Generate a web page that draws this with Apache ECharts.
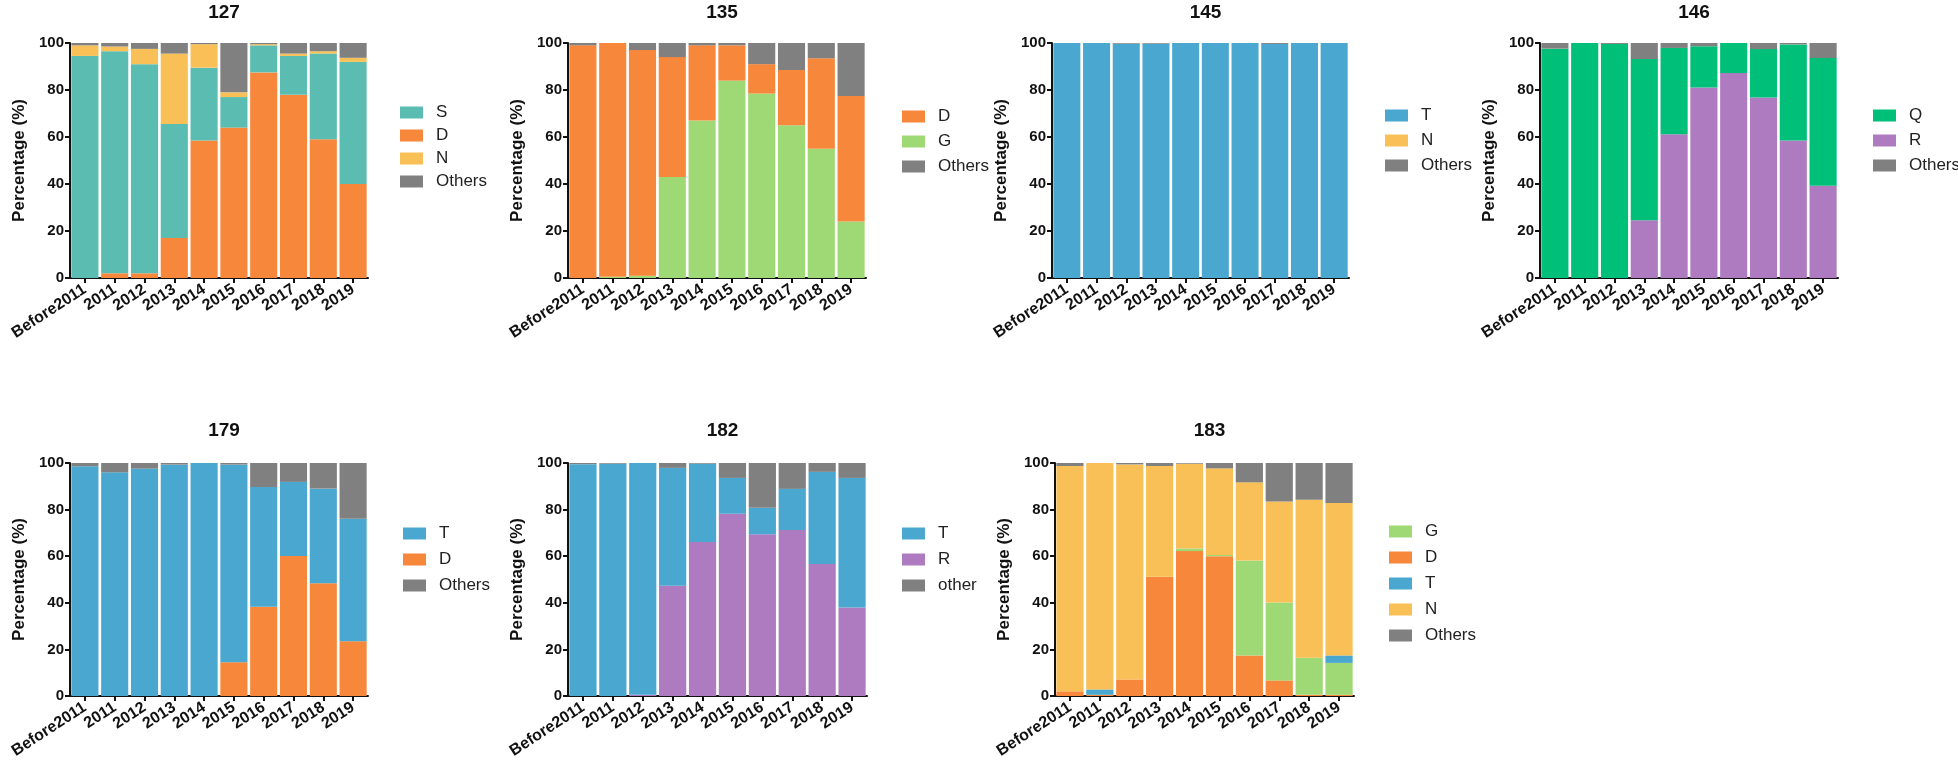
<!DOCTYPE html>
<html>
<head>
<meta charset="utf-8">
<script src="https://cdn.jsdelivr.net/npm/echarts@6/dist/echarts.min.js"></script>
<style>
  html, body { margin: 0; padding: 0; background: #fff; }
  #chart { width: 1958px; height: 768px; }
</style>
</head>
<body>
<div id="chart"></div>
<script>
const categories = ["Before2011", "2011", "2012", "2013", "2014", "2015", "2016", "2017", "2018", "2019"];
const yTicks = [0, 20, 40, 60, 80, 100];

// 127
const p127_D = [0, 2, 2, 17, 58.5, 64, 87.5, 78, 59, 40];
const p127_S = [94.5, 94.5, 89, 48.5, 31, 13, 11.5, 16.5, 36.5, 52];
const p127_N = [4.5, 2, 6.5, 30, 10, 2, 0.5, 1, 1, 1.7];
const p127_O = [1, 1.5, 2.5, 4.5, 0.5, 21, 0.5, 4.5, 3.5, 6.3];
// 135
const p135_G = [0, 0.5, 1, 43, 67, 84, 78.5, 65, 55, 24];
const p135_D = [99, 99.5, 96, 51, 32, 15, 12.5, 23.5, 38.5, 53.5];
const p135_O = [1, 0, 3, 6, 1, 1, 9, 11.5, 6.5, 22.5];
// 145
const p145_T = [100, 100, 99.7, 99.7, 100, 100, 100, 99.6, 100, 100];
const p145_N = [0, 0, 0, 0, 0, 0, 0, 0, 0, 0];
const p145_O = [0, 0, 0.3, 0.3, 0, 0, 0, 0.4, 0, 0];
// 146
const p146_R = [0, 0, 0, 24.6, 61.2, 81.1, 87.2, 76.8, 58.5, 39.3];
const p146_Q = [97.6, 100, 99.6, 68.6, 36.7, 17.5, 12.8, 20.6, 40.9, 54.3];
const p146_O = [2.4, 0, 0.4, 6.8, 2.1, 1.4, 0, 2.6, 0.6, 6.4];
// 179
const p179_D = [0, 0, 0, 0, 0, 14.5, 38.3, 60.1, 48.4, 23.5];
const p179_T = [98.6, 96, 97.6, 99.3, 100, 84.8, 51.4, 31.8, 40.6, 52.6];
const p179_O = [1.4, 4, 2.4, 0.7, 0, 0.7, 10.3, 8.1, 11, 23.9];
// 182
const p182_R = [0, 0, 0.5, 47.3, 66.1, 78.2, 69.4, 71.2, 56.6, 38];
const p182_T = [99.5, 99.7, 99.5, 50.6, 33.6, 15.4, 11.4, 17.7, 39.6, 55.6];
const p182_O = [0.5, 0.3, 0, 2.1, 0.3, 6.4, 19.2, 11.1, 3.8, 6.4];
// 183
const p183_D = [2, 0.5, 7.1, 51.2, 62.2, 60, 17.4, 6.7, 0.5, 0.5];
const p183_G = [0, 0, 0, 0, 1.1, 0.5, 40.8, 33.4, 15.9, 13.7];
const p183_T = [0, 2.3, 0, 0, 0, 0, 0, 0, 0, 3.2];
const p183_N = [96.7, 97.2, 92.3, 47.5, 36.4, 37.2, 33.5, 43.4, 67.8, 65.4];
const p183_O = [1.3, 0, 0.6, 1.3, 0.3, 2.3, 8.3, 16.5, 15.8, 17.2];

const colors = {
  S: "#5bbdb1", D: "#f7873b", N: "#f8c056", Others: "#808080", other: "#808080",
  G: "#9fd975", T: "#4aa7cf", Q: "#00bf78", R: "#ae7bc0"
};

const FONT = "Arial, 'Liberation Sans', Helvetica, sans-serif";

// stacks are listed bottom to top, legends in the order the figure shows them
const panels = [
  { title: "127", left: 70, top: 43, width: 298, height: 235, legendLeft: 395, legendTop: 99, gap: 6,
    stack: [["D", p127_D], ["S", p127_S], ["N", p127_N], ["Others", p127_O]], legend: ["S", "D", "N", "Others"] },
  { title: "135", left: 568, top: 43, width: 298, height: 235, legendLeft: 897, legendTop: 103, gap: 8,
    stack: [["G", p135_G], ["D", p135_D], ["Others", p135_O]], legend: ["D", "G", "Others"] },
  { title: "145", left: 1052, top: 43, width: 297, height: 235, legendLeft: 1380, legendTop: 102, gap: 8,
    stack: [["T", p145_T], ["N", p145_N], ["Others", p145_O]], legend: ["T", "N", "Others"] },
  { title: "146", left: 1540, top: 43, width: 298, height: 235, legendLeft: 1868, legendTop: 102, gap: 8,
    stack: [["R", p146_R], ["Q", p146_Q], ["Others", p146_O]], legend: ["Q", "R", "Others"] },
  { title: "179", left: 70, top: 463, width: 298, height: 233, legendLeft: 398, legendTop: 520, gap: 9,
    stack: [["D", p179_D], ["T", p179_T], ["Others", p179_O]], legend: ["T", "D", "Others"] },
  { title: "182", left: 568, top: 463, width: 299, height: 233, legendLeft: 897, legendTop: 520, gap: 9,
    stack: [["R", p182_R], ["T", p182_T], ["other", p182_O]], legend: ["T", "R", "other"] },
  { title: "183", left: 1055, top: 463, width: 299, height: 233, legendLeft: 1384, legendTop: 518, gap: 9,
    stack: [["D", p183_D], ["G", p183_G], ["T", p183_T], ["N", p183_N], ["Others", p183_O]], legend: ["G", "D", "T", "N", "Others"] }
];

const axisLine = { show: true, lineStyle: { color: "#111", width: 2 } };
const option = {
  animation: false,
  backgroundColor: "#fff",
  title: [], grid: [], xAxis: [], yAxis: [], legend: [], series: []
};

panels.forEach((p, i) => {
  option.title.push({
    text: p.title,
    left: p.left + p.width / 2,
    top: p.top - (i < 4 ? 45 : 47),
    textAlign: "center",
    textStyle: { fontFamily: FONT, fontSize: 19, fontWeight: "bold", color: "#111" }
  });
  option.grid.push({ left: p.left, top: p.top, width: p.width, height: p.height });
  option.xAxis.push({
    type: "category",
    gridIndex: i,
    data: categories,
    axisLine,
    axisTick: { show: true, alignWithLabel: true, length: 5, lineStyle: { color: "#111", width: 2 } },
    axisLabel: { interval: 0, rotate: 33, margin: 10, color: "#111", fontFamily: FONT, fontSize: 16, fontWeight: "bold" }
  });
  option.yAxis.push({
    type: "value",
    gridIndex: i,
    min: yTicks[0],
    max: yTicks[yTicks.length - 1],
    interval: yTicks[1] - yTicks[0],
    name: "Percentage (%)",
    nameLocation: "middle",
    nameGap: 42,
    nameTextStyle: { fontFamily: FONT, fontSize: 17, fontWeight: "bold", color: "#111" },
    axisLine,
    axisTick: { show: true, length: 5, lineStyle: { color: "#111", width: 2 } },
    splitLine: { show: false },
    axisLabel: { color: "#111", fontFamily: FONT, fontSize: 15, fontWeight: "bold", margin: 6 }
  });
  option.legend.push({
    orient: "vertical",
    left: p.legendLeft,
    top: p.legendTop,
    itemWidth: 23,
    itemHeight: 12,
    itemGap: p.gap,
    icon: "rect",
    selectedMode: false,
    data: p.legend,
    textStyle: { fontFamily: FONT, fontSize: 17, color: "#222", padding: [0, 0, 0, 8] }
  });
  p.stack.forEach(([name, values]) => {
    option.series.push({
      type: "bar",
      name,
      xAxisIndex: i,
      yAxisIndex: i,
      stack: "s" + i,
      data: values,
      barCategoryGap: "9%",
      itemStyle: { color: colors[name] },
      emphasis: { disabled: true }
    });
  });
});

const chart = echarts.init(document.getElementById("chart"));
chart.setOption(option);
</script>
</body>
</html>
